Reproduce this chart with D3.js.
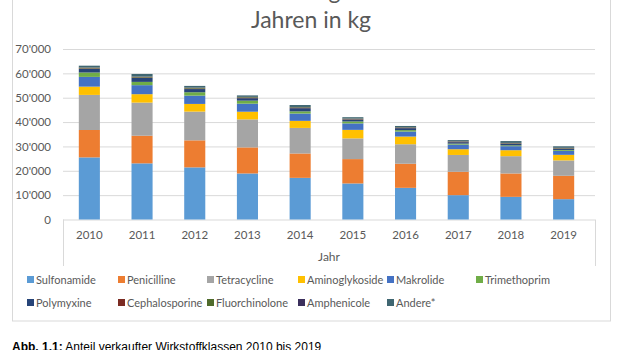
<!DOCTYPE html>
<html>
<head>
    <title>Wirkstoffklassen 2010 bis 2019</title>
    <script src="https://d3js.org/d3.v7.min.js"></script>
    <style>
        body {
            margin: 0;
            background: #fff;
            overflow: hidden;
        }
        .axis path { display: none; }
        .axis line { display: none; }
        .axis text {
            font-family: Lato, "Open Sans", sans-serif;
            font-size: 11.5px;
            fill: #595959;
        }
        .grid line { stroke: #d9d9d9; stroke-width: 1; }
        .grid path { display: none; }
        .legend text {
            font-family: Lato, "Open Sans", sans-serif;
            font-size: 11px;
            fill: #595959;
        }
    </style>
</head>
<body>
<div id="chart"></div>
<script>
    // Jahre
    const years = ["2010", "2011", "2012", "2013", "2014", "2015", "2016", "2017", "2018", "2019"];

    // Wirkstoffklassen (Reihenfolge = Stapelreihenfolge)
    const classes = ["Sulfonamide", "Penicilline", "Tetracycline", "Aminoglykoside", "Makrolide",
        "Trimethoprim", "Polymyxine", "Cephalosporine", "Fluorchinolone", "Amphenicole", "Andere*"];

    const colors = ["#5b9bd5", "#ed7d31", "#a5a5a5", "#ffc000", "#4472c4", "#70ad47",
        "#264478", "#7b2b22", "#4f6b2c", "#3b2f5c", "#3f6671"];

    // Mengen in kg je Klasse, 2010..2019
    const sulfonamide    = [25500, 23050, 21400, 18900, 17100, 14800, 13000, 10000, 9300, 8350];
    const penicilline    = [11250, 11350, 11100, 10700, 10000, 10000, 9900, 9600, 9600, 9600];
    const tetracycline   = [14400, 13600, 11800, 11500, 10500, 8500, 8000, 6900, 7100, 6300];
    const aminoglykoside = [3400, 3450, 3150, 3150, 2900, 3500, 3150, 2350, 2450, 2300];
    const makrolide      = [4000, 3700, 3400, 3300, 3000, 2650, 2050, 1900, 1650, 1650];
    const trimethoprim   = [1800, 1350, 1400, 1250, 900, 800, 600, 400, 350, 350];
    const polymyxine     = [1500, 1600, 1300, 1000, 1300, 800, 800, 600, 600, 500];
    const cephalosporine = [200, 200, 200, 200, 150, 150, 150, 150, 150, 150];
    const fluorchinolone = [300, 300, 300, 250, 250, 200, 200, 150, 150, 150];
    const amphenicole    = [100, 100, 100, 100, 100, 100, 100, 100, 100, 100];
    const andere         = [700, 1050, 700, 600, 800, 500, 450, 450, 750, 600];

    const series = [sulfonamide, penicilline, tetracycline, aminoglykoside, makrolide,
        trimethoprim, polymyxine, cephalosporine, fluorchinolone, amphenicole, andere];

    const yTicks = [0, 10000, 20000, 30000, 40000, 50000, 60000, 70000];

    // table for d3.stack
    const table = years.map((yr, i) => {
        const row = {year: yr};
        classes.forEach((c, k) => row[c] = series[k][i]);
        return row;
    });

    const width = 620, height = 350;
    const svg = d3.select("#chart").append("svg")
        .attr("width", width)
        .attr("height", height);

    // chart frame
    svg.append("rect")
        .attr("x", 12.5).attr("y", -10)
        .attr("width", 598).attr("height", 331)
        .attr("fill", "none")
        .attr("stroke", "#d9d9d9");

    // title (first line cut off at top, as in the source picture)
    const title = svg.append("text")
        .attr("text-anchor", "middle")
        .attr("font-family", "Lato, 'Open Sans', sans-serif")
        .attr("font-size", 23)
        .attr("fill", "#595959");
    title.append("tspan").attr("x", 311).attr("y", -1)
        .text("Verkaufte Antibiotika-Mengen in den letzten zehn");
    title.append("tspan").attr("x", 311).attr("y", 28)
        .text("Jahren in kg");

    const plotL = 63, plotR = 590, plotT = 49, plotB = 219.5;

    const x = d3.scaleBand()
        .domain(years)
        .range([plotL, plotR])
        .paddingInner(0.6)
        .paddingOuter(0.3);

    const y = d3.scaleLinear()
        .domain([0, 70000])
        .range([plotB, plotT]);

    // gridlines
    svg.append("g")
        .attr("class", "grid")
        .attr("transform", `translate(${plotL},0)`)
        .call(d3.axisLeft(y).tickValues(yTicks).tickSize(-(595 - plotL)).tickFormat(""));

    // axis side lines below baseline
    svg.append("g").selectAll("line")
        .data([plotL, 595])
        .join("line")
        .attr("x1", d => d + 0.5).attr("x2", d => d + 0.5)
        .attr("y1", plotB).attr("y2", 266)
        .attr("stroke", "#d9d9d9");

    // stacked bars
    const stack = d3.stack().keys(classes)(table);
    svg.append("g")
        .selectAll("g")
        .data(stack)
        .join("g")
        .attr("fill", (d, i) => colors[i])
        .selectAll("rect")
        .data(d => d)
        .join("rect")
        .attr("x", d => x(d.data.year))
        .attr("y", d => y(d[1]))
        .attr("width", x.bandwidth())
        .attr("height", d => y(d[0]) - y(d[1]));

    // y axis
    svg.append("g")
        .attr("class", "axis")
        .attr("transform", `translate(${plotL - 9},0)`)
        .call(d3.axisLeft(y).tickValues(yTicks).tickSize(0)
            .tickFormat(d => d3.format(",")(d).replace(/,/g, "'")));

    // x axis
    svg.append("g")
        .attr("class", "axis")
        .attr("transform", `translate(0,${plotB + 8})`)
        .call(d3.axisBottom(x).tickSize(0));

    svg.append("text")
        .attr("x", 329).attr("y", 261)
        .attr("text-anchor", "middle")
        .attr("font-family", "Lato, 'Open Sans', sans-serif")
        .attr("font-size", 12)
        .attr("fill", "#595959")
        .text("Jahr");

    // legend
    const legX = [27, 118, 207, 298, 387, 476];
    const legend = svg.append("g").attr("class", "legend")
        .selectAll("g")
        .data(classes)
        .join("g")
        .attr("transform", (d, i) => `translate(${legX[i % 6]},${i < 6 ? 280 : 303})`);
    legend.append("rect")
        .attr("x", 0).attr("y", -4)
        .attr("width", 7).attr("height", 7)
        .attr("fill", (d, i) => colors[i]);
    legend.append("text")
        .attr("x", 9).attr("y", 4)
        .text(d => d);

    // caption (bottom edge cut, as in the source picture)
    const cap = svg.append("text")
        .attr("x", 12).attr("y", 351)
        .attr("font-family", "'Liberation Sans', Arial, sans-serif")
        .attr("font-size", 12)
        .attr("fill", "#000");
    cap.append("tspan").attr("font-weight", "bold").text("Abb. 1.1:");
    cap.append("tspan").text(" Anteil verkaufter Wirkstoffklassen 2010 bis 2019");
</script>
</body>
</html>
